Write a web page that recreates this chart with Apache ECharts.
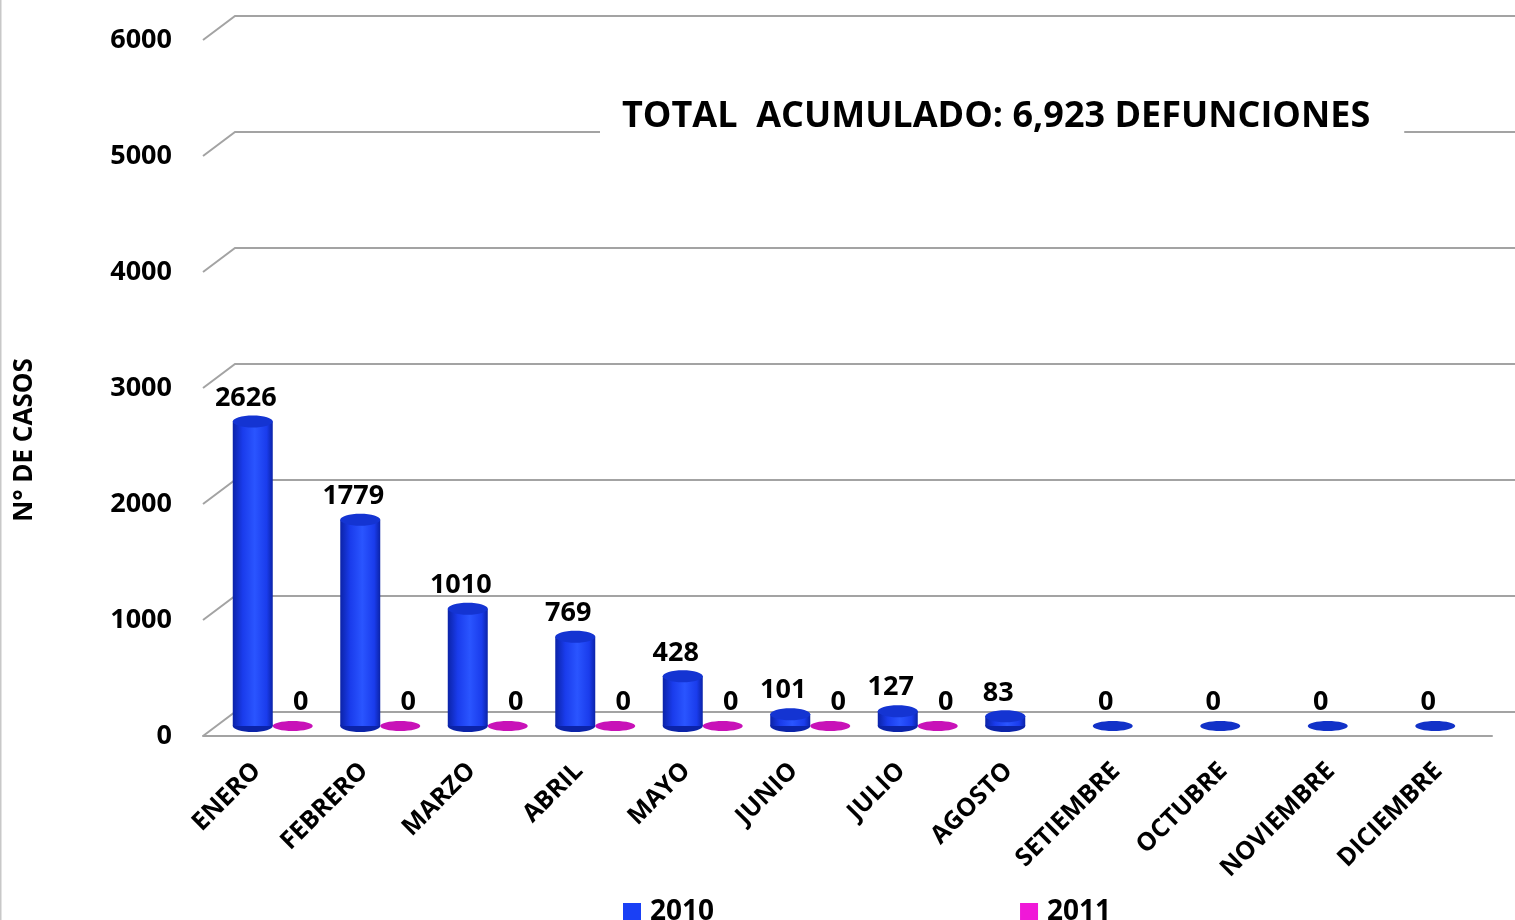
<!DOCTYPE html>
<html>
<head>
<meta charset="utf-8">
<script src="https://cdn.jsdelivr.net/npm/echarts@6/dist/echarts.min.js"></script>
<style>
  html, body { margin: 0; padding: 0; background: #fff; }
  #chart { width: 1515px; height: 920px; }
</style>
</head>
<body>
<div id="chart"></div>
<script>
(() => {
    'use strict'

    const months = ['ENERO', 'FEBRERO', 'MARZO', 'ABRIL', 'MAYO', 'JUNIO', 'JULIO', 'AGOSTO', 'SETIEMBRE', 'OCTUBRE', 'NOVIEMBRE', 'DICIEMBRE']
    const cases2010 = [2626, 1779, 1010, 769, 428, 101, 127, 83, 0, 0, 0, 0]
    const cases2011 = [0, 0, 0, 0, 0, 0, 0, null, null, null, null, null]
    const yTicks = [0, 1000, 2000, 3000, 4000, 5000, 6000]
    const totalTitle = 'TOTAL  ACUMULADO: 6,923 DEFUNCIONES'
    const yName = 'N° DE CASOS'

    const FONT = '"Open Sans", "DejaVu Sans", sans-serif'
    const DEPTH_X = 32
    const DEPTH_Y = -24

    // back wall + floor, drawn from the front axis with a fixed depth offset
    const wallItem = (params, api) => {
        const v = api.value(1)
        const p0 = api.coord([0, v])
        const p1 = api.coord([1, v])
        return {
            type: 'polyline',
            shape: {points: [p0, [p0[0] + DEPTH_X, p0[1] + DEPTH_Y], [p1[0] + DEPTH_X, p1[1] + DEPTH_Y]]},
            style: {stroke: '#a3a3a3', lineWidth: 2, fill: null}
        }
    }

    const cylinder = (shift, c, labelShift) => (params, api) => {
        const idx = api.value(0)
        const v = api.value(1)
        const band = api.size([1, 0])[0]
        const w = band * 0.372
        const base = api.coord([idx, 0])
        const top = api.coord([idx, v])
        const cx = base[0] + shift * band
        const children = []
        if (v > 0) {
            children.push({
                type: 'ellipse',
                shape: {cx: cx, cy: base[1], rx: w / 2, ry: 6},
                style: {fill: c.edge}
            })
            children.push({
                type: 'rect',
                shape: {x: cx - w / 2, y: top[1], width: w, height: base[1] - top[1]},
                style: {
                    fill: new echarts.graphic.LinearGradient(0, 0, 1, 0, [
                        {offset: 0, color: c.edge},
                        {offset: 0.25, color: c.mid},
                        {offset: 0.55, color: c.light},
                        {offset: 0.85, color: c.mid},
                        {offset: 1, color: c.edge}
                    ])
                }
            })
            children.push({
                type: 'ellipse',
                shape: {cx: cx, cy: top[1], rx: w / 2, ry: 6},
                style: {fill: c.top}
            })
        } else {
            children.push({
                type: 'ellipse',
                shape: {cx: cx, cy: base[1], rx: w / 2, ry: 5},
                style: {fill: c.disk}
            })
        }
        children.push({
            type: 'text',
            x: cx + labelShift,
            y: top[1] - 10,
            z2: 10,
            style: {
                text: String(v),
                font: 'bold 27px ' + FONT,
                fill: '#000',
                align: 'center',
                verticalAlign: 'bottom'
            }
        })
        return {type: 'group', children: children}
    }

    const blue = {edge: '#0b23a8', mid: '#1a3cec', light: '#2a55ff', top: '#1434d2', disk: '#1232c8'}
    const pink = {edge: '#a30c96', mid: '#d413c4', light: '#e81ad6', top: '#c010b0', disk: '#c812b8'}

    const toData = arr => arr.map((v, i) => v === null ? null : [i, v]).filter(d => d !== null)

    const options = {
        animation: false,
        backgroundColor: '#fff',
        title: {
            text: totalTitle,
            left: 600,
            top: 95,
            backgroundColor: '#fff',
            padding: [4, 34, 4, 22],
            textStyle: {fontFamily: FONT, fontSize: 36, fontWeight: 'bold', color: '#000'}
        },
        legend: {
            data: ['2010', '2011'],
            left: 618,
            top: 893,
            icon: 'rect',
            itemWidth: 18,
            itemHeight: 18,
            itemGap: 306,
            textStyle: {fontFamily: FONT, fontSize: 28, fontWeight: 'bold', color: '#000', padding: [0, 0, 0, 4]}
        },
        graphic: [
            {
                type: 'text',
                x: 25,
                y: 440,
                rotation: Math.PI / 2,
                style: {
                    text: yName,
                    font: 'bold 26px ' + FONT,
                    fill: '#000',
                    align: 'center',
                    verticalAlign: 'middle'
                }
            },
            {
                type: 'rect',
                shape: {x: 0, y: 0, width: 1.5, height: 920},
                style: {fill: '#c8c8c8'}
            }
        ],
        grid: [
            {left: 203, top: 40, height: 696, right: 23},
            {left: 219, top: 30, height: 696, right: 6}
        ],
        xAxis: [
            {
                gridIndex: 0,
                type: 'category',
                data: months,
                axisTick: {show: false},
                axisLine: {lineStyle: {color: '#a3a3a3', width: 2}},
                axisLabel: {
                    interval: 0,
                    rotate: 45,
                    margin: 31,
                    fontFamily: FONT,
                    fontSize: 25,
                    fontWeight: 'bold',
                    color: '#000'
                }
            },
            {gridIndex: 0, type: 'value', min: 0, max: 1, show: false},
            {gridIndex: 1, type: 'category', data: months, show: false}
        ],
        yAxis: [
            {
                gridIndex: 0,
                type: 'value',
                min: 0,
                max: 6000,
                interval: 1000,
                axisLine: {show: false},
                axisTick: {show: false},
                splitLine: {show: false},
                axisLabel: {
                    margin: 31,
                    formatter: v => String(v),
                    fontFamily: FONT,
                    fontSize: 27,
                    fontWeight: 'bold',
                    color: '#000'
                }
            },
            {gridIndex: 1, type: 'value', min: 0, max: 6000, show: false}
        ],
        series: [
            {
                name: 'walls',
                type: 'custom',
                xAxisIndex: 1,
                yAxisIndex: 0,
                clip: false,
                silent: true,
                renderItem: wallItem,
                data: yTicks.map(v => [0, v]),
                z: 1
            },
            {
                name: '2010',
                type: 'custom',
                xAxisIndex: 2,
                yAxisIndex: 1,
                clip: false,
                itemStyle: {color: '#1a40f5'},
                renderItem: cylinder(-0.186, blue, -7),
                data: toData(cases2010),
                z: 3
            },
            {
                name: '2011',
                type: 'custom',
                xAxisIndex: 2,
                yAxisIndex: 1,
                clip: false,
                itemStyle: {color: '#f018d8'},
                renderItem: cylinder(0.186, pink, 8),
                data: toData(cases2011),
                z: 3
            }
        ]
    }

    const chart = echarts.init(document.getElementById('chart'))
    chart.setOption(options)
})()
</script>
</body>
</html>
